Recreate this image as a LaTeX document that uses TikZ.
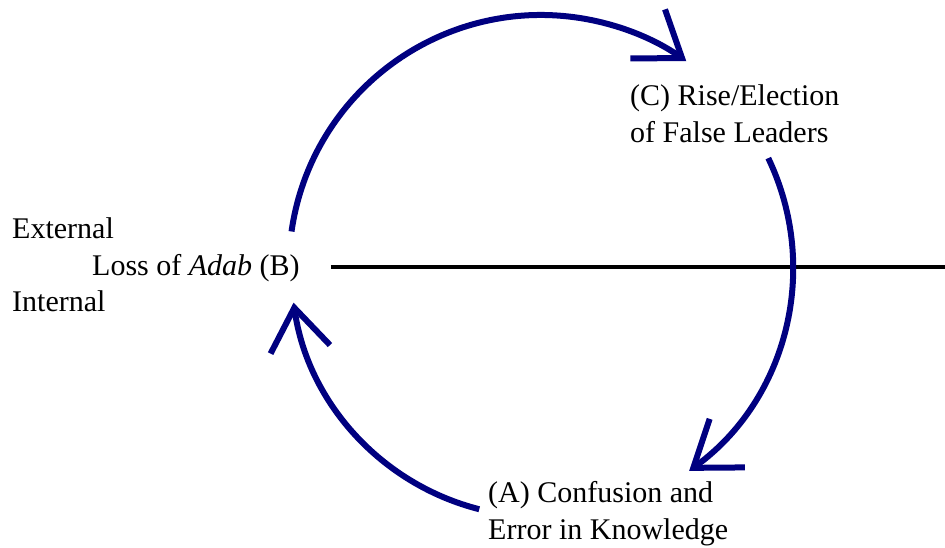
\documentclass[tikz,border=0pt]{standalone}
\usepackage{fontspec}
\setmainfont{Liberation Serif}
\usetikzlibrary{arrows.meta,calc}
\definecolor{cyclenavy}{HTML}{000080}
\begin{document}
\begin{tikzpicture}[x=1pt,y=1pt,
  label/.style={inner sep=0pt, anchor=base west, font=\fontsize{30}{37}\selectfont, align=left},
  cyclearc/.style={draw=cyclenavy, line width=6pt,
    -{Straight Barb[length=42pt, width=60pt]}},
  divider/.style={draw=black, line width=3.5pt}]
\useasboundingbox (0,0) rectangle (945,548);

% centre of the cycle
\coordinate (O) at (541,281);

% labels (base anchor of a two-line label is its last line)
\node[label] (ext) at (12,309) {External};
\node[label] (B)   at (92,272) {Loss of \textit{Adab} (B)};
\node[label] (int) at (12,236) {Internal};
\node[label] (C)   at (630,405) {(C) Rise/Election\\of False Leaders};
\node[label] (A)   at (488,8) {(A) Confusion and\\Error in Knowledge};

% external / internal divider
\coordinate (R) at (945,281);
\draw[divider] ([xshift=31pt]B.east |- R) -- (R);

% the cycle B -> C -> A -> B
\coordinate (b1) at ($(O)+(171.9:252)$);
\draw[cyclearc] (b1) arc[start angle=171.9, end angle=54.8, radius=252];

\coordinate (c1) at ($(O)+(25.6:252)$);
\draw[cyclearc] (c1) arc[start angle=25.6, end angle=-54, radius=252];

\coordinate (a1) at ($(O)+(255.7:250)$);
\draw[cyclearc] (a1) arc[start angle=255.7, end angle=188.2, radius=250];
\end{tikzpicture}
\end{document}
